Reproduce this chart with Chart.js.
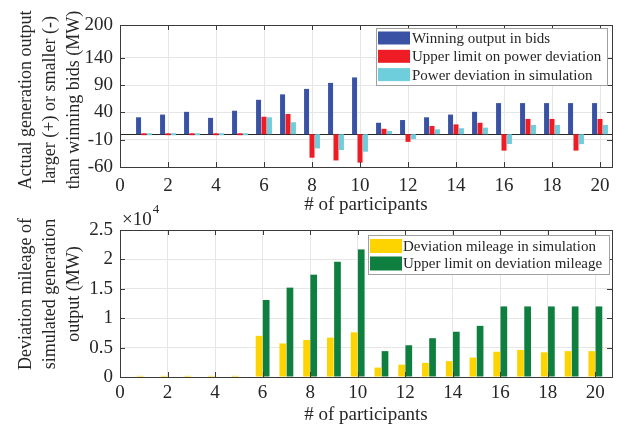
<!DOCTYPE html>
<html>
<head>
<meta charset="utf-8">
<script src="https://cdn.jsdelivr.net/npm/chart.js@4.4.1/dist/chart.umd.min.js"></script>
<style>
  body { margin: 0; background: #fff; }
  #wrap { position: relative; width: 633px; height: 430px; overflow: hidden; }
  canvas { position: absolute; left: 0; }
  #topChart { top: 0; }
  #bottomChart { top: 198px; }
</style>
</head>
<body>
<div id="wrap">
  <canvas id="topChart" width="633" height="215" style="width:633px;height:215px"></canvas>
  <canvas id="bottomChart" width="633" height="232" style="width:633px;height:232px"></canvas>
</div>
<script>
// data
const participants = [1, 2, 3, 4, 5, 6, 7, 8, 9, 10, 11, 12, 13, 14, 15, 16, 17, 18, 19, 20];
const winningOutput = [31, 36, 41, 30, 43, 63, 73, 83, 94, 104, 21, 26, 31, 36, 41, 57, 57, 57, 57, 57];
const powerDevLimit = [0, 0, 0, 0, 0, 32, 37, -43, -48, -52, 10, -14, 15, 18, 21, -30, 28, 28, -30, 28];
const powerDevSim = [0, 0, 0, 0, 0, 31, 22, -26, -29, -32, 6, -9, 9, 11, 12, -18, 17, 17, -18, 17];

const mileageSim = [200, 200, 200, 200, 200, 7000, 5700, 6300, 6700, 7600, 1600, 2100, 2400, 2700, 3300, 4300, 4600, 4200, 4400, 4400];
const mileageLimit = [0, 0, 0, 0, 0, 13100, 15200, 17400, 19600, 21700, 4400, 5400, 6600, 7700, 8700, 12000, 12000, 12000, 12000, 12000];

const xTicks = [0, 2, 4, 6, 8, 10, 12, 14, 16, 18, 20];
const topYTicks = [-60, -10, 40, 90, 140, 200];
const bottomYTicks = [0, 5000, 10000, 15000, 20000, 25000];

const topYTitle = ['Actual generation output', 'larger (+) or smaller (-)', 'than winning bids (MW)'];
const bottomYTitle = ['Deviation mileage of', 'simulated generation', 'output (MW)'];

const FONT = 'Liberation Serif';
const TXT = '#262626';

// box, inward ticks, baseline, y title and legend inside the axes (MATLAB look)
const matlabAxes = {
  id: 'matlabAxes',
  beforeDatasetsDraw(chart, args, opts) {
    if (!opts.baseline) return;
    const { ctx, chartArea: a, scales } = chart;
    const y0 = Math.round(scales.y.getPixelForValue(0)) + 0.5;
    ctx.save();
    ctx.strokeStyle = TXT;
    ctx.lineWidth = 1;
    ctx.beginPath();
    ctx.moveTo(a.left, y0);
    ctx.lineTo(a.right, y0);
    ctx.stroke();
    ctx.restore();
  },
  afterDraw(chart, args, opts) {
    const { ctx, chartArea: a, scales } = chart;
    ctx.save();
    ctx.strokeStyle = '#3a3a3a';
    ctx.lineWidth = 1;
    ctx.strokeRect(Math.round(a.left) + 0.5, Math.round(a.top) + 0.5,
      Math.round(a.right - a.left), Math.round(a.bottom - a.top));
    const tl = 5;
    ctx.beginPath();
    scales.x.ticks.forEach(t => {
      const px = Math.round(scales.x.getPixelForValue(t.value)) + 0.5;
      ctx.moveTo(px, a.bottom); ctx.lineTo(px, a.bottom - tl);
      ctx.moveTo(px, a.top); ctx.lineTo(px, a.top + tl);
    });
    scales.y.ticks.forEach(t => {
      const py = Math.round(scales.y.getPixelForValue(t.value)) + 0.5;
      ctx.moveTo(a.left, py); ctx.lineTo(a.left + tl, py);
      ctx.moveTo(a.right, py); ctx.lineTo(a.right - tl, py);
    });
    ctx.stroke();

    // rotated y title
    const T = opts.yTitle;
    if (T) {
      ctx.save();
      ctx.fillStyle = TXT;
      ctx.font = '18px "' + FONT + '"';
      ctx.textAlign = 'center';
      ctx.textBaseline = 'middle';
      ctx.translate(T.x, T.cy);
      ctx.rotate(-Math.PI / 2);
      T.lines.forEach((line, i) => ctx.fillText(line, 0, i * T.lh));
      ctx.restore();
    }

    // legend
    const L = opts.legend;
    if (L) {
      ctx.fillStyle = '#fff';
      ctx.fillRect(L.x, L.y, L.w, L.h);
      ctx.strokeStyle = '#a0a0a0';
      ctx.strokeRect(L.x + 0.5, L.y + 0.5, L.w, L.h);
      ctx.font = L.fontSize + 'px "' + FONT + '"';
      ctx.textBaseline = 'middle';
      ctx.textAlign = 'left';
      chart.data.datasets.forEach((ds, i) => {
        const cy = L.y + L.first + i * L.rowH;
        ctx.fillStyle = ds.backgroundColor;
        ctx.fillRect(L.x + L.patchX, cy - L.patchH / 2, L.patchW, L.patchH);
        ctx.fillStyle = TXT;
        ctx.fillText(ds.label, L.x + L.textX, cy + 1);
      });
    }

    // exponent label
    if (opts.exponent) {
      ctx.fillStyle = TXT;
      ctx.textAlign = 'left';
      ctx.textBaseline = 'alphabetic';
      ctx.font = '19px "' + FONT + '"';
      ctx.fillText('\u00d710', opts.exponent.x, opts.exponent.y);
      const w = ctx.measureText('\u00d710').width;
      ctx.font = '13px "' + FONT + '"';
      ctx.fillText('4', opts.exponent.x + w + 1, opts.exponent.y - 12);
    }
    ctx.restore();
  }
};

function axisFont(size) {
  return { family: FONT, size: size, lineHeight: 1.25 };
}

function xScale(max, tickPad, height, titlePad) {
  return {
    type: 'linear',
    min: 0,
    max: max,
    offset: false,
    afterBuildTicks: s => { s.ticks = xTicks.map(v => ({ value: v })); },
    afterFit: s => { s.height = height; },
    grid: { color: '#e6e6e6', drawTicks: false, offset: false },
    border: { display: false },
    ticks: { color: TXT, font: axisFont(19), padding: tickPad, maxRotation: 0 },
    title: { display: true, text: '# of participants', color: TXT,
      font: { family: FONT, size: 19, lineHeight: 1 }, padding: { top: 0, bottom: titlePad } }
  };
}

function yScale(min, max, ticks, cb) {
  return {
    min: min,
    max: max,
    afterBuildTicks: s => { s.ticks = ticks.map(v => ({ value: v })); },
    afterFit: s => { s.width = 120; },
    grid: { color: '#e6e6e6', drawTicks: false },
    border: { display: false },
    ticks: { color: TXT, font: axisFont(19), padding: 7, callback: cb }
  };
}

new Chart(document.getElementById('topChart'), {
  type: 'bar',
  data: {
    labels: participants,
    datasets: [
      { label: 'Winning output in bids', data: winningOutput, backgroundColor: '#3a52a3' },
      { label: 'Upper limit on power deviation', data: powerDevLimit, backgroundColor: '#ee1d25', minBarLength: 2 },
      { label: 'Power deviation in simulation', data: powerDevSim, backgroundColor: '#6fcedc', minBarLength: 2 }
    ]
  },
  options: {
    responsive: false,
    animation: false,
    devicePixelRatio: 1,
    categoryPercentage: 0.68,
    barPercentage: 0.92,
    layout: { padding: { top: 25, right: 21, left: 0, bottom: 0 } },
    scales: {
      x: xScale(20.5, 7, 48, 0),
      y: yScale(-60, 200, topYTicks, v => String(v))
    },
    plugins: {
      legend: { display: false },
      tooltip: { enabled: false },
      matlabAxes: {
        baseline: true,
        yTitle: { lines: topYTitle, x: 26, cy: 100, lh: 24 },
        legend: { x: 376, y: 28, w: 231, h: 57, first: 10, rowH: 18.3, patchX: 2, patchW: 32, patchH: 13, textX: 36, fontSize: 15 }
      }
    }
  },
  plugins: [matlabAxes]
});

new Chart(document.getElementById('bottomChart'), {
  type: 'bar',
  data: {
    labels: participants,
    datasets: [
      { label: 'Deviation mileage in simulation', data: mileageSim, backgroundColor: '#fdd400' },
      { label: 'Upper limit on deviation mileage', data: mileageLimit, backgroundColor: '#0f7f40' }
    ]
  },
  options: {
    responsive: false,
    animation: false,
    devicePixelRatio: 1,
    categoryPercentage: 0.6,
    barPercentage: 0.94,
    layout: { padding: { top: 32, right: 21, left: 0, bottom: 0 } },
    scales: {
      x: xScale(20.7, 4, 53, 5),
      y: yScale(0, 25000, bottomYTicks, v => String(v / 10000))
    },
    plugins: {
      legend: { display: false },
      tooltip: { enabled: false },
      matlabAxes: {
        baseline: false,
        yTitle: { lines: bottomYTitle, x: 26, cy: 96, lh: 24 },
        exponent: { x: 122, y: 27 },
        legend: { x: 368, y: 37, w: 241, h: 39, first: 11, rowH: 17.5, patchX: 2, patchW: 32, patchH: 14, textX: 35, fontSize: 15 }
      }
    }
  },
  plugins: [matlabAxes]
});
</script>
</body>
</html>
